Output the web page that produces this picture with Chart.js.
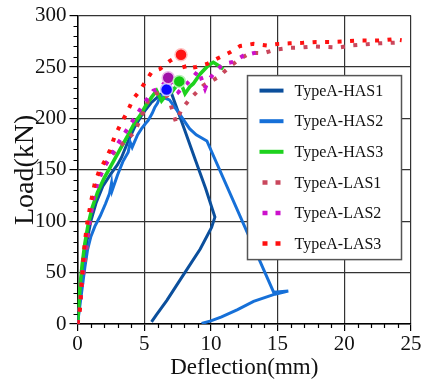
<!DOCTYPE html>
<html>
<head>
<meta charset="utf-8">
<script src="https://cdn.jsdelivr.net/npm/chart.js@4"></script>
<style>
html,body{margin:0;padding:0;background:#fff;}
canvas{display:block;}
</style>
</head>
<body>
<canvas id="c" width="423" height="385"></canvas>
<script>
// ---- data ----
const seriesNames = ['TypeA-HAS1','TypeA-HAS2','TypeA-HAS3','TypeA-LAS1','TypeA-LAS2','TypeA-LAS3'];

const xHAS1 = [0,0.1,0.25,0.45,0.7,1.0,1.4,1.9,2.5,3.0,3.3,3.8,4.3,4.9,5.5,6.1,6.7,7.0,8.0,8.85,9.6,10.3,10.05,9.2,7.9,6.7,5.9,5.55];
const yHAS1 = [0,15,35,57,80,100,118,134,146,155,162,178,192,205,215,222,228,226,190,159,132,104,94,73,47,23,8.7,2];

const xHAS2 = [0,0.15,0.35,0.55,0.75,1.0,1.3,1.7,2.1,2.4,2.55,2.6,3.0,3.4,3.8,3.95,4.1,4.5,4.8,5.1,5.3,5.6,5.8,6.0,6.2,6.5,6.9,7.5,8.4,8.9,9.7,14.7,15.8,14.8,13.2,12.0,10.8,10.0,9.3];
const yHAS2 = [0,15,35,55,72,85,95,105,117,127,137,130,145,158,167,177,172,184,190,195,198,205,211,215,222,220,218,207,190,184,178,31,32,29,22,14,7,3,0.5];

const xHAS3 = [0,0.1,0.2,0.35,0.55,0.8,1.1,1.5,2.0,2.6,3.2,3.8,4.3,4.7,5.1,5.56,5.93,6.3,6.6,7.06,7.5,7.7,8.06,8.43,8.68,9.18,9.8,10.18,10.5,10.93];
const yHAS3 = [0,18,38,58,78,97,113,128,142,156,170,184,196,203,212,220.7,227,217,222,225.5,233,236,224,231,233.7,243,251.5,254.6,252,248];

const xLAS1 = [0,0.2,0.35,0.5,0.68,0.93,1.18,1.5,2.0,2.5,3.0,3.6,4.3,4.56,5.3,5.9,6.5,6.93,7.18,7.38,7.81,8.43,9.43,10.55,11.38,12.18,12.98,13.93,14.88,15.8,16.8,17.7,18.7,19.6,20.6,21.6,22.6,23.5,24.3];
const yLAS1 = [0,20,40,55,74,99,122,138,153,163,171,178,187,195,217,224,226,216,204.6,196.4,209,219,232,240,250,258,263.8,263.4,267,268.6,269,270,269.5,269,271,272,273,273.5,274];

const xLAS2 = [0,0.2,0.35,0.5,0.7,0.95,1.2,1.5,2.0,2.6,3.0,3.43,4.0,4.56,5.06,5.68,6.18,6.8,7.56,8.6,9.06,9.56,9.8,10.3,10.93,11.68,12.43,13.36];
const yLAS2 = [0,20,45,65,85,105,123,138,153,166,175,183.5,195,206,216,227,229,239.5,225.5,239,246.6,229,237,245,253,255,261,264];

const xLAS3 = [0,0.18,0.3,0.43,0.55,0.75,1.0,1.3,1.6,2.06,2.43,2.8,3.18,3.68,4.18,4.68,5.06,5.56,6.18,6.93,7.76,8.06,8.9,9.7,10.6,11.4,12.2,13.2,14.2,15.1,15.9,16.9,17.9,18.9,19.8,20.8,21.7,22.7,23.7,24.3];
const yLAS3 = [0,14,38,62,80,100,118,137,148,159,169,183,193,205,219,227,235,245,248,256,262,248,250,253,259,264,270.5,272.5,271,272.5,273,273.5,274.4,274.4,274.8,275.7,275.7,275.7,277,276];

// peak markers (HAS1, LAS2, HAS3, LAS3)
const peakX = [6.68, 6.8, 7.63, 7.76];
const peakY = [228, 239.5, 236, 262];

const xTicks = [0,5,10,15,20,25];
const yTicks = [0,50,100,150,200,250,300];

// ---- styles ----
const colors = ['#0b4f9c','#1670d8','#1ed21e','#c9475c','#cc11cc','#ff1010'];
const peakFill = ['#0a0aff','#a010a8','#12c812','#ff1414'];
const peakRing = ['#c0c4ff','#ecb8ec','#b8f0b8','#ffc0c0'];
const dotted = [false,false,false,true,true,true];
const SERIF = '"Liberation Serif","Times New Roman",serif';

const toPts = (xs, ys) => xs.map((x,i)=>({x, y: ys[i]}));
const allX = [xHAS1,xHAS2,xHAS3,xLAS1,xLAS2,xLAS3];
const allY = [yHAS1,yHAS2,yHAS3,yLAS1,yLAS2,yLAS3];
const drawOrder = [6,5,4,3,2,1];
const widths = [3,3,3.6,4,4,4];

const datasets = seriesNames.map((name,i)=>({
  label: name,
  data: toPts(allX[i], allY[i]),
  borderColor: colors[i],
  backgroundColor: colors[i],
  borderWidth: widths[i],
  borderDash: dotted[i] ? [4,8.5] : [],
  borderCapStyle: 'butt',
  borderJoinStyle: 'miter',
  pointRadius: 0,
  tension: 0,
  showLine: true,
  fill: false,
  order: drawOrder[i]
}));
datasets.push({
  label: 'peaks',
  data: toPts(peakX, peakY),
  showLine: false,
  pointRadius: 6,
  pointBorderWidth: 1.5,
  pointBackgroundColor: peakFill,
  pointBorderColor: peakRing,
  order: 0
});

const minorTicks = {
  id: 'minorTicks',
  afterDraw(chart){
    const {ctx, chartArea:a, scales:{x, y}} = chart;
    ctx.save();
    ctx.strokeStyle = '#000';
    ctx.lineWidth = 1.2;
    ctx.beginPath();
    for (let v = 0; v <= 25; v += 1) {
      if (v % 5 === 0) continue;
      const px = Math.round(x.getPixelForValue(v)) + 0.5;
      ctx.moveTo(px, a.bottom); ctx.lineTo(px, a.bottom + 4);
    }
    for (let v = 0; v <= 300; v += 10) {
      if (v % 50 === 0) continue;
      const py = Math.round(y.getPixelForValue(v)) + 0.5;
      ctx.moveTo(a.left - 4, py); ctx.lineTo(a.left, py);
    }
    ctx.stroke();
    ctx.restore();
  }
};

const boxLegend = {
  id: 'boxLegend',
  afterDatasetsDraw(chart){
    const {ctx, chartArea:a} = chart;
    const L = a.left + 170, T = a.top + 60, W = 154, H = 184;
    ctx.save();
    ctx.fillStyle = '#fff';
    ctx.fillRect(L, T, W, H);
    ctx.strokeStyle = '#555';
    ctx.lineWidth = 1.5;
    ctx.strokeRect(L, T, W, H);
    ctx.font = '16px ' + SERIF;
    ctx.textBaseline = 'middle';
    ctx.textAlign = 'left';
    seriesNames.forEach((name,i)=>{
      const cy = T + 15 + i * 30.6;
      ctx.beginPath();
      ctx.strokeStyle = colors[i];
      if (dotted[i]) {
        ctx.lineWidth = 4.5;
        ctx.setLineDash([5,8]);
        ctx.moveTo(L + 15, cy); ctx.lineTo(L + 35, cy);
      } else {
        ctx.lineWidth = 4;
        ctx.setLineDash([]);
        ctx.moveTo(L + 12, cy); ctx.lineTo(L + 36, cy);
      }
      ctx.stroke();
      ctx.setLineDash([]);
      ctx.fillStyle = '#111';
      ctx.fillText(name, L + 47, cy + 1);
    });
    ctx.restore();
  }
};

new Chart(document.getElementById('c'), {
  type: 'scatter',
  data: { datasets },
  options: {
    responsive: false,
    animation: false,
    devicePixelRatio: 1,
    layout: { padding: { top: 15, right: 12, left: 0, bottom: 0 } },
    plugins: { legend: { display: false }, tooltip: { enabled: false } },
    scales: {
      x: {
        type: 'linear', min: 0, max: 25,
        afterBuildTicks: s => { s.ticks = xTicks.map(v=>({value:v})); },
        afterFit: s => { s.height = 61; },
        grid: { color: '#333', lineWidth: 1.2, drawTicks: true, tickLength: 7, tickColor: '#000', tickWidth: 1.2 },
        border: { color: '#000', width: 1.5 },
        ticks: { color: '#111', font: { family: SERIF, size: 21 }, padding: 1, maxRotation: 0, autoSkip: false },
        title: { display: true, text: 'Deflection(mm)', color: '#111', font: { family: SERIF, size: 23 }, padding: { top: 0, bottom: 3 } }
      },
      y: {
        type: 'linear', min: 0, max: 300,
        afterBuildTicks: s => { s.ticks = yTicks.map(v=>({value:v})); },
        afterFit: s => { s.width = 77.5; },
        grid: { color: '#333', lineWidth: 1.2, drawTicks: true, tickLength: 8, tickColor: '#000', tickWidth: 1.2 },
        border: { color: '#000', width: 1.5 },
        ticks: { color: '#111', font: { family: SERIF, size: 21 }, padding: 3, autoSkip: false },
        title: { display: true, text: 'Load(kN)', color: '#111', font: { family: SERIF, size: 28 }, padding: { top: 9, bottom: 0 } }
      }
    }
  },
  plugins: [minorTicks, boxLegend]
});
</script>
</body>
</html>
